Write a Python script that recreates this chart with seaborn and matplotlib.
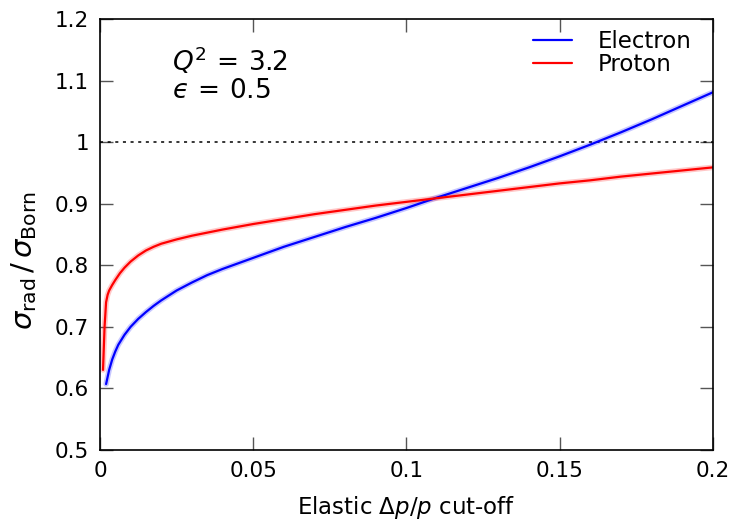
import numpy as np
import pandas as pd
import matplotlib
matplotlib.use("Agg")
import matplotlib.pyplot as plt
import seaborn as sns
from matplotlib.ticker import FuncFormatter

# data
x_electron = [0.002, 0.003, 0.004, 0.005, 0.006, 0.008, 0.010, 0.0125, 0.015, 0.0175,
              0.02, 0.025, 0.03, 0.035, 0.04, 0.045, 0.05, 0.06, 0.07, 0.08,
              0.09, 0.1, 0.11, 0.12, 0.13, 0.14, 0.15, 0.16, 0.17, 0.18,
              0.19, 0.2]
y_electron = [0.607, 0.630, 0.647, 0.660, 0.671, 0.687, 0.700, 0.713, 0.724, 0.734,
              0.743, 0.759, 0.772, 0.784, 0.794, 0.803, 0.812, 0.830, 0.846, 0.862,
              0.877, 0.893, 0.910, 0.926, 0.942, 0.959, 0.977, 0.996, 1.016, 1.037,
              1.059, 1.081]

x_proton = [0.001, 0.0015, 0.002, 0.0025, 0.003, 0.004, 0.005, 0.0065, 0.008, 0.01,
            0.0125, 0.015, 0.0175, 0.02, 0.025, 0.03, 0.035, 0.04, 0.05, 0.06,
            0.07, 0.08, 0.09, 0.1, 0.11, 0.12, 0.13, 0.14, 0.15, 0.16,
            0.17, 0.18, 0.19, 0.2]
y_proton = [0.630, 0.700, 0.740, 0.752, 0.759, 0.768, 0.776, 0.787, 0.796, 0.806,
            0.816, 0.824, 0.830, 0.835, 0.842, 0.848, 0.853, 0.858, 0.867, 0.875,
            0.883, 0.890, 0.897, 0.903, 0.909, 0.915, 0.921, 0.927, 0.933, 0.938,
            0.944, 0.949, 0.954, 0.959]

series_names = ["Electron", "Proton"]
series_colors = ["#0000ff", "#ff0000"]
x_ticks = [0, 0.05, 0.1, 0.15, 0.2]
y_ticks = [0.5, 0.6, 0.7, 0.8, 0.9, 1.0, 1.1, 1.2]

df = pd.concat([
    pd.DataFrame({"x": x_electron, "y": y_electron, "particle": "Electron"}),
    pd.DataFrame({"x": x_proton, "y": y_proton, "particle": "Proton"}),
])

sns.set_theme(style="ticks")
plt.rcParams["font.family"] = ["DejaVu Sans"]
plt.rcParams["mathtext.fontset"] = "dejavusans"
plt.rcParams["text.color"] = "black"
plt.rcParams["axes.labelcolor"] = "black"
plt.rcParams["xtick.labelcolor"] = "black"
plt.rcParams["ytick.labelcolor"] = "black"

fig = plt.figure(figsize=(7.35, 5.22), dpi=100)
ax = fig.add_axes([0.136, 0.138, 0.834, 0.8256])

palette = dict(zip(series_names, series_colors))
# faint halo (uncertainty band look)
sns.lineplot(data=df, x="x", y="y", hue="particle", palette=palette, ax=ax,
             lw=4, alpha=0.22, legend=False, estimator=None, sort=False)
sns.lineplot(data=df, x="x", y="y", hue="particle", palette=palette, ax=ax,
             lw=1.6, legend=True, estimator=None, sort=False)

ax.axhline(1.0, color="black", lw=1.1, ls=(0, (2, 3)), zorder=1)

ax.set_xlim(0, 0.2)
ax.set_ylim(0.5, 1.2)
ax.set_xticks(x_ticks)
ax.set_yticks(y_ticks)
ax.xaxis.set_major_formatter(FuncFormatter(lambda v, p: f"{v:g}"))
ax.yaxis.set_major_formatter(FuncFormatter(lambda v, p: f"{v:g}"))
ax.tick_params(direction="in", length=9.5, width=1.0, color="#555555",
               top=True, right=True, labelsize=15.5, pad=8)
for s in ax.spines.values():
    s.set_linewidth(1.2)
    s.set_color("black")

ax.set_xlabel(r"Elastic $\Delta p/p$ cut-off", fontsize=16.5)
ax.xaxis.set_label_coords(0.5, -0.102)
ax.set_ylabel(r"$\sigma_{\rm rad}\,/\,\sigma_{\rm Born}$", fontsize=21)
ax.yaxis.set_label_coords(-0.1, 0.44)

ax.text(0.0235, 1.132, r"$Q^2\,=\,3.2$", fontsize=19, va="center")
ax.text(0.0235, 1.083, "$\u03f5\\,=\\,0.5$", fontsize=19, va="center")

handles, labels = ax.get_legend_handles_labels()
leg = ax.legend(handles, labels, loc="upper right", bbox_to_anchor=(0.98, 0.995),
                frameon=False, fontsize=16.5, handlelength=1.7,
                handletextpad=1.1, labelspacing=0.0, borderaxespad=0.0)

fig.savefig("out.png", dpi=100)
